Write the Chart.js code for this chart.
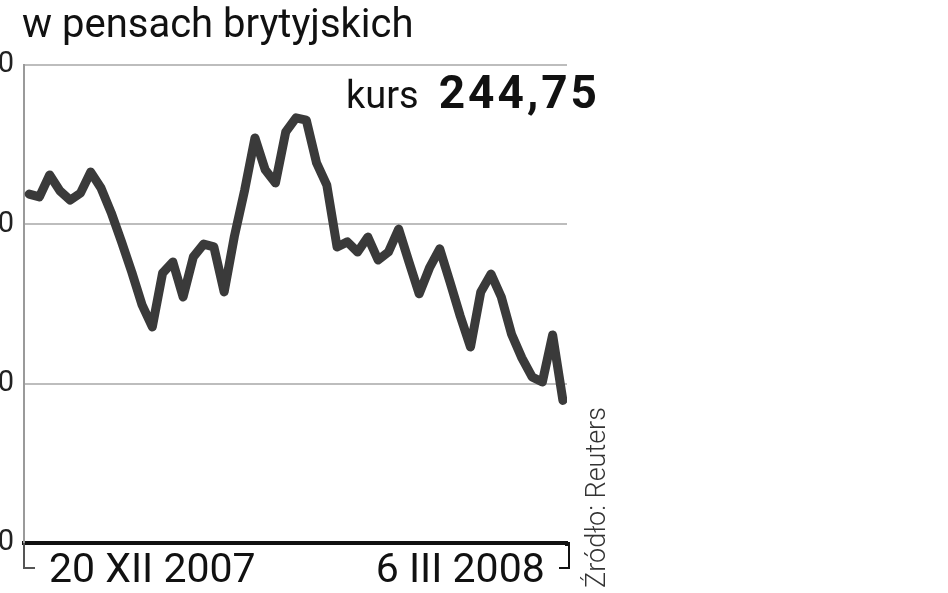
<!DOCTYPE html>
<html>
<head>
<meta charset="utf-8">
<script src="https://cdn.jsdelivr.net/npm/chart.js"></script>
<style>
  html, body { margin: 0; padding: 0; background: #fff; }
  #kurs-chart { display: block; }
</style>
</head>
<body>
<canvas id="kurs-chart" width="948" height="593"></canvas>
<script>
// trading days 20 XII 2007 - 6 III 2008
const categories = [
  '20 XII', '21 XII', '24 XII', '27 XII', '28 XII', '31 XII',
  '2 I', '3 I', '4 I', '7 I', '8 I', '9 I', '10 I', '11 I', '14 I', '15 I', '16 I', '17 I', '18 I',
  '21 I', '22 I', '23 I', '24 I', '25 I', '28 I', '29 I', '30 I', '31 I',
  '1 II', '4 II', '5 II', '6 II', '7 II', '8 II', '11 II', '12 II', '13 II', '14 II', '15 II',
  '18 II', '19 II', '20 II', '21 II', '22 II', '25 II', '26 II', '27 II', '28 II', '29 II',
  '3 III', '4 III', '5 III', '6 III'
];
// price in pence
const prices = [
  309.5, 308.6, 315.5, 310.5, 307.6, 309.8, 316.4, 311.4, 303.6, 294.5,
  285.0, 274.7, 267.8, 284.7, 288.2, 277.2, 289.8, 293.8, 292.9, 278.8,
  296.3, 310.8, 327.1, 317.1, 313.0, 329.0, 333.4, 332.7, 319.3, 312.3,
  292.9, 294.5, 291.3, 296.0, 288.8, 291.3, 298.5, 288.2, 278.2, 286.3,
  292.3, 281.9, 271.2, 261.5, 278.8, 284.4, 277.2, 265.5, 258.1, 252.1,
  250.5, 265.3, 244.75
];
const yTicks = [200, 250, 300, 350];
const xTickAt = [12, 42];
const xTickLabels = ['20 XII 2007', '6 III 2008'];

const titleText = 'w pensach brytyjskich';
const kursLabel = 'kurs';
const kursValue = '244,75';
const sourceText = 'Źródło: Reuters';

const FONT = 'Roboto, "Liberation Sans", sans-serif';

const decorations = {
  id: 'decorations',
  afterDraw(chart) {
    const ctx = chart.ctx;
    const a = chart.chartArea;
    ctx.save();
    // axis end brackets
    ctx.strokeStyle = '#555';
    ctx.lineWidth = 2;
    ctx.beginPath();
    ctx.moveTo(a.left, a.bottom);
    ctx.lineTo(a.left, a.bottom + 25);
    ctx.lineTo(a.left + 11, a.bottom + 25);
    ctx.stroke();
    ctx.strokeStyle = '#111';
    ctx.beginPath();
    ctx.moveTo(a.right + 2, a.bottom - 1);
    ctx.lineTo(a.right + 2, a.bottom + 25);
    ctx.lineTo(a.right - 8, a.bottom + 25);
    ctx.stroke();
    ctx.lineWidth = 4;
    ctx.beginPath();
    ctx.moveTo(a.right - 2, a.bottom + 1);
    ctx.lineTo(a.right + 3, a.bottom + 1);
    ctx.stroke();

    // title
    ctx.fillStyle = '#111';
    ctx.textBaseline = 'alphabetic';
    ctx.textAlign = 'left';
    ctx.font = '40px ' + FONT;
    ctx.fillText(titleText, 22, 37);

    // current price
    ctx.textAlign = 'right';
    ctx.font = 'bold 46px ' + FONT;
    ctx.letterSpacing = '3px';
    ctx.fillText(kursValue, 600, 108);
    const w = ctx.measureText(kursValue).width;
    ctx.letterSpacing = '0px';
    ctx.font = '38px ' + FONT;
    ctx.fillText(kursLabel, 600 - w - 20, 108);

    // source
    ctx.translate(605, 588);
    ctx.rotate(-Math.PI / 2);
    ctx.textAlign = 'left';
    ctx.fillStyle = '#333';
    ctx.font = '300 27px ' + FONT;
    ctx.fillText(sourceText, 0, 0);
    ctx.restore();
  }
};

new Chart(document.getElementById('kurs-chart'), {
  type: 'line',
  data: {
    labels: categories,
    datasets: [{
      label: 'kurs',
      data: prices.map((v, i) => ({ x: i, y: v })),
      borderColor: '#3a3a3a',
      borderWidth: 9,
      borderJoinStyle: 'round',
      borderCapStyle: 'round',
      pointRadius: 0,
      tension: 0,
      fill: false
    }]
  },
  options: {
    responsive: false,
    animation: false,
    layout: { padding: { top: 65, right: 381, left: 0, bottom: 0 } },
    plugins: { legend: { display: false }, tooltip: { enabled: false }, title: { display: false } },
    scales: {
      x: {
        type: 'linear',
        min: -0.5,
        max: 52.4,
        afterFit(scale) { scale.height = 50; },
        afterBuildTicks(scale) { scale.ticks = xTickAt.map(v => ({ value: v })); },
        grid: { display: false, drawTicks: false },
        border: { display: true, color: '#111', width: 4 },
        ticks: {
          autoSkip: false,
          maxRotation: 0,
          padding: 4,
          color: '#111',
          font: { family: FONT, size: 41 },
          callback: v => xTickLabels[xTickAt.indexOf(v)]
        }
      },
      y: {
        min: 200,
        max: 350,
        afterFit(scale) { scale.width = 24; },
        afterBuildTicks(scale) { scale.ticks = yTicks.map(v => ({ value: v })); },
        grid: { color: '#bdbdbd', lineWidth: 2, drawTicks: false },
        border: { display: true, color: '#9a9a9a', width: 2 },
        ticks: {
          padding: 10,
          color: '#222',
          font: { family: FONT, size: 29 }
        }
      }
    }
  },
  plugins: [decorations]
});
</script>
</body>
</html>
